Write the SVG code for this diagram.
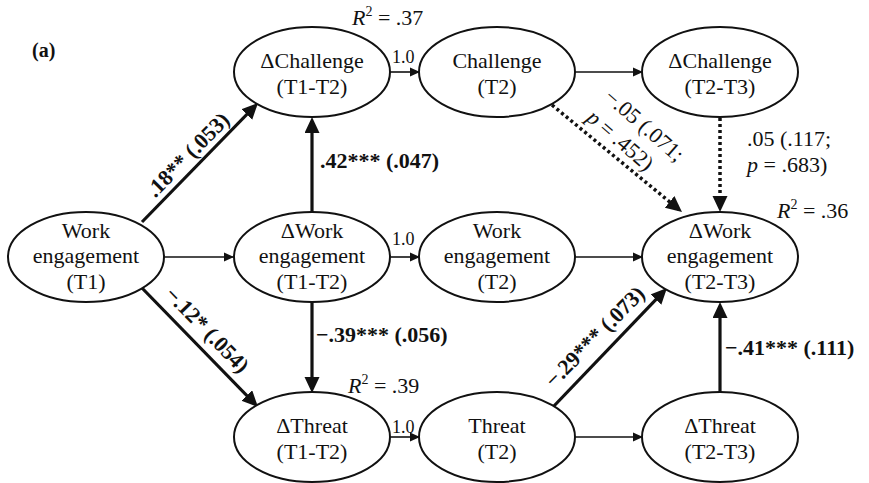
<svg xmlns="http://www.w3.org/2000/svg" width="869" height="483" viewBox="0 0 869 483">
<style>
text{font-family:"Liberation Serif",Tinos,"Times New Roman","Noto Serif","DejaVu Serif",serif;fill:#111}
.n{font-size:22px;text-anchor:middle}
.b{font-size:22px;font-weight:bold}
.l{font-size:22px}
.s{font-size:18px}
ellipse{fill:#fff;stroke:#111;stroke-width:2}
.thin{stroke:#111;stroke-width:1.6;fill:none}
.bold{stroke:#111;stroke-width:3.2;fill:none}
.dot{stroke:#111;stroke-width:3.5;fill:none;stroke-dasharray:3 3}
</style>
<defs>
<marker id="ah" markerUnits="userSpaceOnUse" markerWidth="12" markerHeight="10" refX="10" refY="5" orient="auto"><path d="M0,0.5 L10,5 L0,9.5 Z" fill="#111"/></marker>
<marker id="ahb" markerUnits="userSpaceOnUse" markerWidth="18" markerHeight="16" refX="12" refY="7.5" orient="auto"><path d="M0,0 L16,7.5 L0,15 Z" fill="#111"/></marker>
</defs>
<rect width="869" height="483" fill="#fff"/>
<text x="32" y="57" style="font-size:20px;font-weight:bold">(a)</text>

<g id="connectors">
<line class="bold" x1="142" y1="222" x2="255.2" y2="105.9" marker-end="url(#ahb)"/>
<line class="thin" x1="164" y1="257" x2="234" y2="257" marker-end="url(#ah)"/>
<line class="bold" x1="142" y1="288" x2="255.2" y2="404.1" marker-end="url(#ahb)"/>
<line class="bold" x1="312" y1="212" x2="312" y2="121" marker-end="url(#ahb)"/>
<line class="bold" x1="312" y1="302" x2="312" y2="389" marker-end="url(#ahb)"/>
<line class="thin" x1="390" y1="72" x2="420" y2="72" marker-end="url(#ah)"/>
<line class="thin" x1="390" y1="257" x2="420" y2="257" marker-end="url(#ah)"/>
<line class="thin" x1="390" y1="437" x2="420" y2="437" marker-end="url(#ah)"/>
<line class="thin" x1="575" y1="72" x2="643" y2="72" marker-end="url(#ah)"/>
<line class="thin" x1="575" y1="257" x2="643" y2="257" marker-end="url(#ah)"/>
<line class="thin" x1="575" y1="437" x2="643" y2="437" marker-end="url(#ah)"/>
<line class="dot" x1="552" y1="105" x2="678.9" y2="209.5" marker-end="url(#ahb)"/>
<line class="dot" x1="720" y1="118" x2="720" y2="208" marker-end="url(#ahb)"/>
<line class="bold" x1="553" y1="407" x2="664.2" y2="290.9" marker-end="url(#ahb)"/>
<line class="bold" x1="720" y1="393" x2="720" y2="306" marker-end="url(#ahb)"/>

<text class="b" transform="translate(188,155) rotate(-45.7)" x="0" y="7" text-anchor="middle">.18** (.053)</text>
<text class="b" transform="translate(207,330) rotate(46)" x="0" y="7" text-anchor="middle">−.12* (.054)</text>
<text class="b" transform="translate(595,337) rotate(-45.5)" x="0" y="7" text-anchor="middle">−.29*** (.073)</text>
<text class="b" x="320" y="168">.42*** (.047)</text>
<text class="b" x="316" y="342">−.39*** (.056)</text>
<text class="b" x="725" y="355">−.41*** (.111)</text>
<text class="s" x="392" y="63">1.0</text>
<text class="s" x="392" y="245">1.0</text>
<text class="s" x="392" y="433">1.0</text>
<g transform="translate(603,99) rotate(41)">
<text class="l" x="0" y="0">−.05 (.071;</text>
<text class="l" x="0" y="27"><tspan font-style="italic">p</tspan> = .452)</text>
</g>
<text class="l" x="747" y="146">.05 (.117;</text>
<text class="l" x="747" y="172"><tspan font-style="italic">p</tspan> = .683)</text>
<text class="l" x="352" y="25"><tspan font-style="italic">R</tspan><tspan font-size="14" dy="-9">2</tspan><tspan dy="9"> = .37</tspan></text>
<text class="l" x="777" y="218"><tspan font-style="italic">R</tspan><tspan font-size="14" dy="-9">2</tspan><tspan dy="9"> = .36</tspan></text>
<text class="l" x="348" y="393"><tspan font-style="italic">R</tspan><tspan font-size="14" dy="-9">2</tspan><tspan dy="9"> = .39</tspan></text>
</g>

<g id="we_t1"><ellipse cx="86" cy="257" rx="78" ry="45"/><text class="n" x="86" y="238">Work</text><text class="n" x="86" y="263">engagement</text><text class="n" x="86" y="289">(T1)</text></g>
<g id="dch_t1t2"><ellipse cx="312" cy="72" rx="78" ry="45"/><text class="n" x="312" y="68">ΔChallenge</text><text class="n" x="312" y="94">(T1-T2)</text></g>
<g id="ch_t2"><ellipse cx="497" cy="72" rx="78" ry="45"/><text class="n" x="497" y="68">Challenge</text><text class="n" x="497" y="94">(T2)</text></g>
<g id="dch_t2t3"><ellipse cx="720" cy="72" rx="78" ry="45"/><text class="n" x="720" y="68">ΔChallenge</text><text class="n" x="720" y="94">(T2-T3)</text></g>
<g id="dwe_t1t2"><ellipse cx="312" cy="257" rx="78" ry="45"/><text class="n" x="312" y="238">ΔWork</text><text class="n" x="312" y="263">engagement</text><text class="n" x="312" y="289">(T1-T2)</text></g>
<g id="we_t2"><ellipse cx="497" cy="257" rx="78" ry="45"/><text class="n" x="497" y="238">Work</text><text class="n" x="497" y="263">engagement</text><text class="n" x="497" y="289">(T2)</text></g>
<g id="dwe_t2t3"><ellipse cx="720" cy="257" rx="78" ry="45"/><text class="n" x="720" y="238">ΔWork</text><text class="n" x="720" y="263">engagement</text><text class="n" x="720" y="289">(T2-T3)</text></g>
<g id="dth_t1t2"><ellipse cx="312" cy="437" rx="78" ry="45"/><text class="n" x="312" y="433">ΔThreat</text><text class="n" x="312" y="459">(T1-T2)</text></g>
<g id="th_t2"><ellipse cx="497" cy="437" rx="78" ry="45"/><text class="n" x="497" y="433">Threat</text><text class="n" x="497" y="459">(T2)</text></g>
<g id="dth_t2t3"><ellipse cx="720" cy="437" rx="78" ry="45"/><text class="n" x="720" y="433">ΔThreat</text><text class="n" x="720" y="459">(T2-T3)</text></g>
</svg>
